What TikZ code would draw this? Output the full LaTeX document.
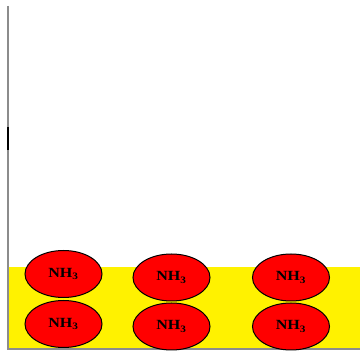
\documentclass[tikz,border=0pt]{standalone}
\usepackage{fontspec}
\setmainfont{Liberation Serif}
\usetikzlibrary{shapes.geometric}
\begin{document}
\begin{tikzpicture}[x=1pt,y=-1pt,
  molecule/.style={ellipse, draw=black, line width=1pt, fill=red,
    minimum width=77pt, minimum height=47pt, inner sep=0pt,
    font=\bfseries\fontsize{14}{14}\selectfont},
  wall/.style={draw=black!45, line width=1.5pt}]
  \useasboundingbox (0,0) rectangle (360,352);
  % liquid layer
  \fill[yellow] (8,267) rectangle (360,348.5);
  % container walls
  \coordinate (wtop) at (8,6);
  \coordinate (wcorner) at (8,349);
  \coordinate (wright) at (360,349);
  \draw[wall] (wtop) -- (wcorner) -- (wright);
  \draw[black, line width=1.5pt] (8,127) -- (8,150);
  % ammonia molecules
  \node[molecule] (a1) at (63.5,274) {\scalebox{1.15}[1]{NH\textsubscript{3}}};
  \node[molecule] (a2) at (63.5,324) {\scalebox{1.15}[1]{NH\textsubscript{3}}};
  \node[molecule] (b1) at (171.5,277.5) {\scalebox{1.15}[1]{NH\textsubscript{3}}};
  \node[molecule] (b2) at (171.5,326.5) {\scalebox{1.15}[1]{NH\textsubscript{3}}};
  \node[molecule] (c1) at (291,277.5) {\scalebox{1.15}[1]{NH\textsubscript{3}}};
  \node[molecule] (c2) at (291,326.5) {\scalebox{1.15}[1]{NH\textsubscript{3}}};
\end{tikzpicture}
\end{document}
